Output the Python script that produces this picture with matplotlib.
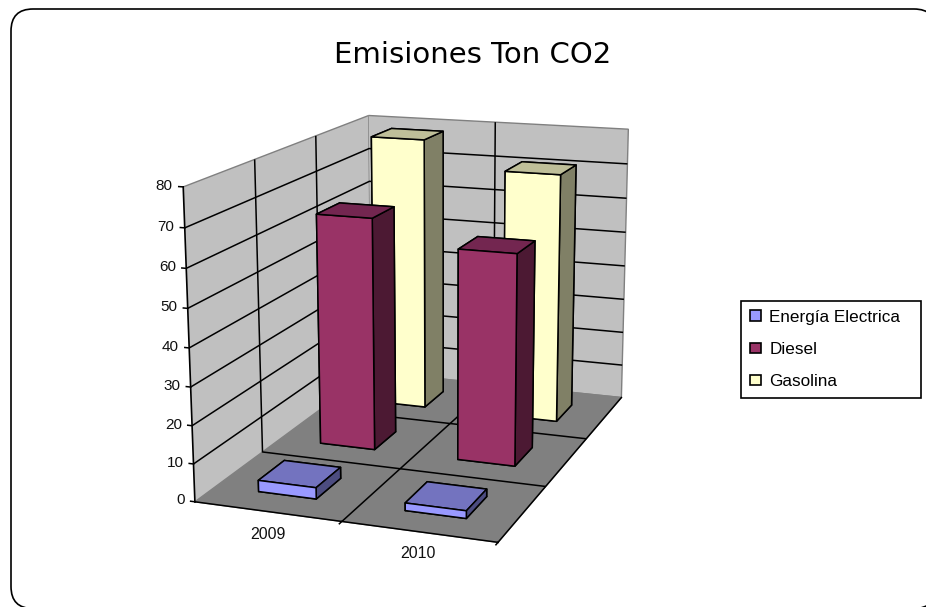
import numpy as np, matplotlib
matplotlib.use('Agg')
import matplotlib.pyplot as plt
from matplotlib.patches import FancyBboxPatch, Patch
from matplotlib.transforms import IdentityTransform

years = ['2009', '2010']
series = ['Energía Electrica', 'Diesel', 'Gasolina']
energia = [3, 2]
diesel = [64, 57.5]
gasolina = [78.5, 71]
z_ticks = list(range(0, 90, 10))

W, H = 926, 607
plt.rcParams['font.family'] = ['Liberation Sans', 'DejaVu Sans']
plt.rcParams['grid.color'] = 'black'
plt.rcParams['grid.linewidth'] = 1.1

fig = plt.figure(figsize=(W/100, H/100), dpi=100, facecolor='white')
L, B, S = 119.00, -3.07, 597.13
ax = fig.add_axes([L/W, B/H, S/W, S/H], projection='3d', computed_zorder=False)
ax.set_xlim(0, 2, view_margin=0)
ax.set_ylim(0, 3, view_margin=0)
ax.set_zlim(0, 80, view_margin=0)
ax.view_init(elev=14.5761, azim=-69.9893, roll=0.1558)
ax.set_proj_type('persp', focal_length=0.5583)
ax.set_box_aspect((1, 1.5048, 1.0062), zoom=1)

ax.set_facecolor('none')
ax.set_xticks([1]); ax.set_yticks([1, 2]); ax.set_zticks(np.arange(10, 80, 10))
ax.set_xticklabels([]); ax.set_yticklabels([]); ax.set_zticklabels([])
for axis, col in zip((ax.xaxis, ax.yaxis, ax.zaxis), ('#C0C0C0', '#C0C0C0', '#808080')):
    axis.set_pane_color(col)
    axis.pane.set_edgecolor('#808080')
    axis.line.set_color('none')
    axis._axinfo['tick']['inward_factor'] = 0
    axis._axinfo['tick']['outward_factor'] = 0
ax.tick_params(color='none')

ax.plot([0, 2], [0, 0], [0, 0], color='k', lw=1.1, zorder=3)
ax.plot([2, 2], [0, 3], [0, 0], color='k', lw=1.1, zorder=3)
ax.plot([0, 0], [0, 0], [0, 80], color='k', lw=1.2, zorder=3)
for v in z_ticks:
    ax.plot([-.03, 0], [0, 0], [v, v], color='k', lw=1.1, zorder=3)
    ax.text(-.07, 0, v, str(v), ha='right', va='center', fontsize=11, color='#111111', zorder=20)
for xt in [1, 2]:
    ax.plot([xt, xt], [0, -.04], [0, 0], color='k', lw=1.1, zorder=3)
ax.text(.663, -.34, 0, years[0], ha='center', va='center', fontsize=11.5, color='#111111', zorder=20)
ax.text(1.61, -.32, 0, years[1], ha='center', va='center', fontsize=11.5, color='#111111', zorder=20)

colors = {0: ('#9999FF', '#7373BF', '#4C4C80'),
          1: ('#993366', '#732650', '#4C1933'),
          2: ('#FFFFCC', '#BFBF99', '#808066')}
vals = [energia, diesel, gasolina]
bw = 0.4
for s in (2, 1, 0):
    front, top, side = colors[s]
    for i in range(2):
        ax.bar3d(i+.3, s+.3, 0, bw, bw, vals[s][i], color=[front, top, front, front, side, side],
                 shade=False, edgecolor='k', linewidth=1.1, zorder=10-s)

fig.text(473/W, 1-55/H, 'Emisiones Ton CO2', ha='center', va='center', fontsize=21, color='k', family='DejaVu Sans')

r = 22
fx0, fy0, fx1, fy1 = 11, -1.5, 936, 598
frame = FancyBboxPatch((fx0+r, fy0+r), fx1-fx0-2*r, fy1-fy0-2*r,
                       boxstyle=f'round,pad={r},rounding_size={r}',
                       transform=IdentityTransform(), fc='white', ec='k', lw=1.2, zorder=-5)
fig.add_artist(frame)

handles = [Patch(fc=colors[k][0], ec='k', lw=1.2) for k in range(3)]
leg = fig.legend(handles, series, loc='center', bbox_to_anchor=(741/W, 1-398/H, 180/W, 97/H), mode='expand',
                 fontsize=12.3, frameon=True, fancybox=False, edgecolor='k', framealpha=1,
                 handlelength=.6, handleheight=.6, handletextpad=.5, labelspacing=1.0, borderpad=.55, borderaxespad=0)
leg.get_frame().set_linewidth(1.2)
fig.savefig('out.png', dpi=100, facecolor='white')
